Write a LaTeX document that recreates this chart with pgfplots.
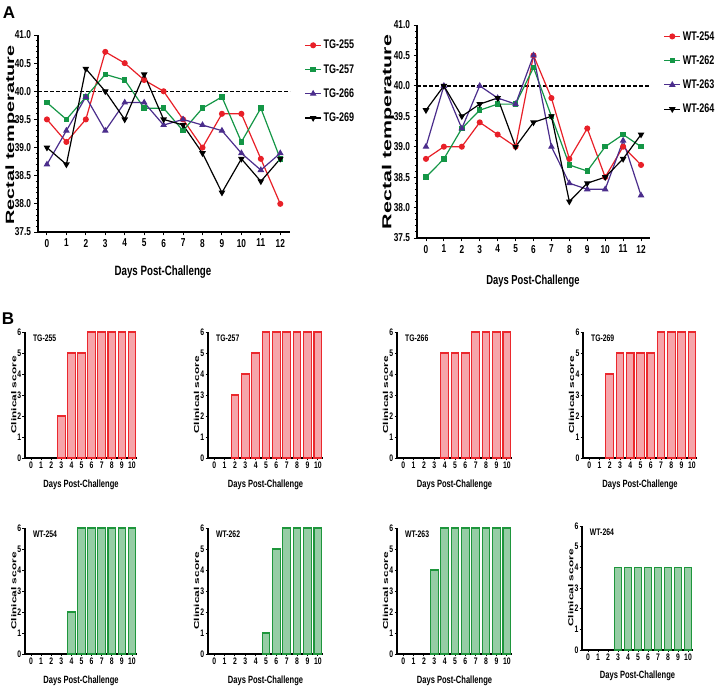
\documentclass[border=0pt]{standalone}
\usepackage{fontspec}
\setmainfont{Liberation Sans}
\newfontfamily\cond{Liberation Sans}[FakeStretch=0.72]
\newfontfamily\wide{Liberation Sans}[FakeStretch=1.65]
\usepackage{pgfplots}
\pgfplotsset{compat=1.18}
\usepackage{pgfplotstable}

\definecolor{cred}{RGB}{232,32,40}
\definecolor{cgreen}{RGB}{20,150,70}
\definecolor{cpurple}{RGB}{75,45,140}
\definecolor{bredfill}{RGB}{246,165,170}
\definecolor{brededge}{RGB}{235,40,45}
\definecolor{bgreenfill}{RGB}{150,205,165}
\definecolor{bgreenedge}{RGB}{30,150,60}

\pgfplotstableread{
day a b c d
0 39.5 39.8 38.7 39.0
1 39.1 39.5 39.3 38.7
2 39.5 39.9 39.9 40.4
3 40.7 40.3 39.3 40.0
4 40.5 40.2 39.8 39.5
5 40.2 39.7 39.8 40.3
6 40.0 39.7 39.4 39.5
7 39.5 39.3 39.5 39.4
8 39.0 39.7 39.4 38.9
9 39.6 39.9 39.3 38.2
10 39.6 39.1 38.9 38.8
11 38.8 39.7 38.6 38.4
12 38.0 38.8 38.9 38.8
}\tgtemp

\pgfplotstableread{
day a b c d
0 38.8 38.5 39.0 39.6
1 39.0 38.8 40.0 40.0
2 39.0 39.3 39.3 39.5
3 39.4 39.6 40.0 39.7
4 39.2 39.7 39.8 39.8
5 39.0 39.7 39.7 39.0
6 40.5 40.3 40.5 39.4
7 39.8 39.5 39.0 39.5
8 38.8 38.7 38.4 38.1
9 39.3 38.6 38.3 38.4
10 38.5 39.0 38.3 38.5
11 39.0 39.2 39.1 38.8
12 38.7 39.0 38.2 39.2
}\wttemp

\pgfplotstableread{
day ta tb tc td wa wb wc wd
0 0 0 0 0 0 0 0 0
1 0 0 0 0 0 0 0 0
2 0 3 0 4 0 0 0 0
3 2 4 0 5 0 0 4 4
4 5 5 5 5 2 0 6 4
5 5 6 5 5 6 1 6 4
6 6 6 5 5 6 5 6 4
7 6 6 6 6 6 6 6 4
8 6 6 6 6 6 6 6 4
9 6 6 6 6 6 6 6 4
10 6 6 6 6 6 6 6 4
}\scores

\pgfplotsset{
  prism/.style={scale only axis, axis lines=left,
    axis line style={-, line width=1.1pt},
    tick align=outside, tick style={line width=0.9pt, black},
    major tick length=3.5pt, minor tick length=2pt,
    /pgf/number format/assume math mode=true, clip=false},
  lineplot/.style={line width=1.2pt, mark size=2.4pt},
  shortleg/.style={legend image code/.code={%
      \draw[mark repeat=2,mark phase=2] plot coordinates {(0pt,0pt)(8pt,0pt)(16pt,0pt)};}},
}

\newcommand{\bchart}[8]{%
\begin{axis}[prism, at={(#1pt,#2pt)}, anchor=south west, width=#3pt, height=#4pt,
  xmin=-0.6, xmax=10.5, ymin=0, ymax=6, xtick={0,...,10}, ytick={0,...,6},
  major tick length=2.5pt,
  ticklabel style={font=\cond\bfseries\fontsize{9.5}{10}\selectfont},
  xticklabel style={inner sep=1.5pt}, yticklabel style={inner sep=1pt}]
\addplot[ybar, bar width=7.6pt, draw=#7, fill=#8, line width=1.1pt, restrict y to domain=0.5:10] table[x=day,y=#5]{\scores};
\node[anchor=west, font=\cond\bfseries\fontsize{9.5}{10}\selectfont] at (rel axis cs:0.04,0.95) {#6};
\node[rotate=90, font=\wide\bfseries\fontsize{7.2}{8}\selectfont] at (rel axis cs:-0.1,0.5) {Clinical score};
\node[font=\cond\bfseries\fontsize{10.5}{11}\selectfont] at (rel axis cs:0.5,-0.21) {Days Post-Challenge};
\end{axis}}

\begin{document}
\begin{tikzpicture}
\useasboundingbox (0,0) rectangle (715pt,690pt);

\node[font=\bfseries\fontsize{17}{17}\selectfont] at (9pt,677pt) {A};
\node[font=\bfseries\fontsize{17}{17}\selectfont] at (8pt,371pt) {B};

% ---------- TG temperature ----------
\begin{axis}[prism, shortleg, at={(38pt,458pt)}, anchor=south west, width=252pt, height=197pt,
  xmin=-0.46, xmax=12.5, ymin=37.5, ymax=41,
  xtick={0,...,12}, ytick={37.5,38,38.5,39,39.5,40,40.5,41}, minor y tick num=4,
  ticklabel style={font=\cond\bfseries\fontsize{11.5}{12}\selectfont},
  yticklabel style={/pgf/number format/.cd, fixed, fixed zerofill, precision=1},
  legend style={at={(1.045,0.995)}, anchor=north west, draw=none, fill=none,
    font=\cond\bfseries\fontsize{12.5}{13}\selectfont, row sep=10pt,
    nodes={inner xsep=2pt}},
  legend cell align=left]
\addplot[black, line width=1.4pt, dash pattern=on 4pt off 2pt, forget plot] coordinates {(-0.46,40) (12.5,40)};
\addplot[lineplot, cred, mark=*] table[x=day,y=a]{\tgtemp};
\addplot[lineplot, cgreen, mark=square*, mark size=2.1pt] table[x=day,y=b]{\tgtemp};
\addplot[lineplot, cpurple, mark=triangle*, mark size=2.7pt] table[x=day,y=c]{\tgtemp};
\addplot[lineplot, black, mark=triangle*, mark size=2.7pt, mark options={rotate=180}] table[x=day,y=d]{\tgtemp};
\legend{TG-255,TG-257,TG-266,TG-269}
\end{axis}
\node[rotate=90, font=\wide\bfseries\fontsize{12}{12}\selectfont] at (11pt,555pt) {Rectal temperature};
\node[font=\cond\bfseries\fontsize{13.5}{14}\selectfont] at (163pt,418pt) {Days Post-Challenge};

% ---------- WT temperature ----------
\begin{axis}[prism, shortleg, at={(417pt,452pt)}, anchor=south west, width=233pt, height=213pt,
  xmin=-0.5, xmax=12.5, ymin=37.5, ymax=41,
  xtick={0,...,12}, ytick={37.5,38,38.5,39,39.5,40,40.5,41}, minor y tick num=4,
  ticklabel style={font=\cond\bfseries\fontsize{11.5}{12}\selectfont},
  yticklabel style={/pgf/number format/.cd, fixed, fixed zerofill, precision=1},
  legend style={at={(1.045,0.99)}, anchor=north west, draw=none, fill=none,
    font=\cond\bfseries\fontsize{12.5}{13}\selectfont, row sep=10pt,
    nodes={inner xsep=2pt}},
  legend cell align=left]
\addplot[black, line width=1.4pt, dash pattern=on 4pt off 2pt, forget plot] coordinates {(-0.5,40) (12.5,40)};
\addplot[lineplot, cred, mark=*] table[x=day,y=a]{\wttemp};
\addplot[lineplot, cgreen, mark=square*, mark size=2.1pt] table[x=day,y=b]{\wttemp};
\addplot[lineplot, cpurple, mark=triangle*, mark size=2.7pt] table[x=day,y=c]{\wttemp};
\addplot[lineplot, black, mark=triangle*, mark size=2.7pt, mark options={rotate=180}] table[x=day,y=d]{\wttemp};
\legend{WT-254,WT-262,WT-263,WT-264}
\end{axis}
\node[rotate=90, font=\wide\bfseries\fontsize{13}{13}\selectfont] at (388pt,558pt) {Rectal temperature};
\node[font=\cond\bfseries\fontsize{13}{13}\selectfont] at (533pt,409pt) {Days Post-Challenge};

% ---------- Clinical scores ----------
\bchart{25}{232}{112}{126}{ta}{TG-255}{brededge}{bredfill}
\bchart{208}{232}{115}{126}{tb}{TG-257}{brededge}{bredfill}
\bchart{397}{232}{115}{126}{tc}{TG-266}{brededge}{bredfill}
\bchart{583}{232}{114}{126}{td}{TG-269}{brededge}{bredfill}
\bchart{25}{36}{112}{126}{wa}{WT-254}{bgreenedge}{bgreenfill}
\bchart{208}{36}{115}{126}{wb}{WT-262}{bgreenedge}{bgreenfill}
\bchart{397}{36}{115}{126}{wc}{WT-263}{bgreenedge}{bgreenfill}
\bchart{582}{40}{111}{124}{wd}{WT-264}{bgreenedge}{bgreenfill}
\end{tikzpicture}
\end{document}
